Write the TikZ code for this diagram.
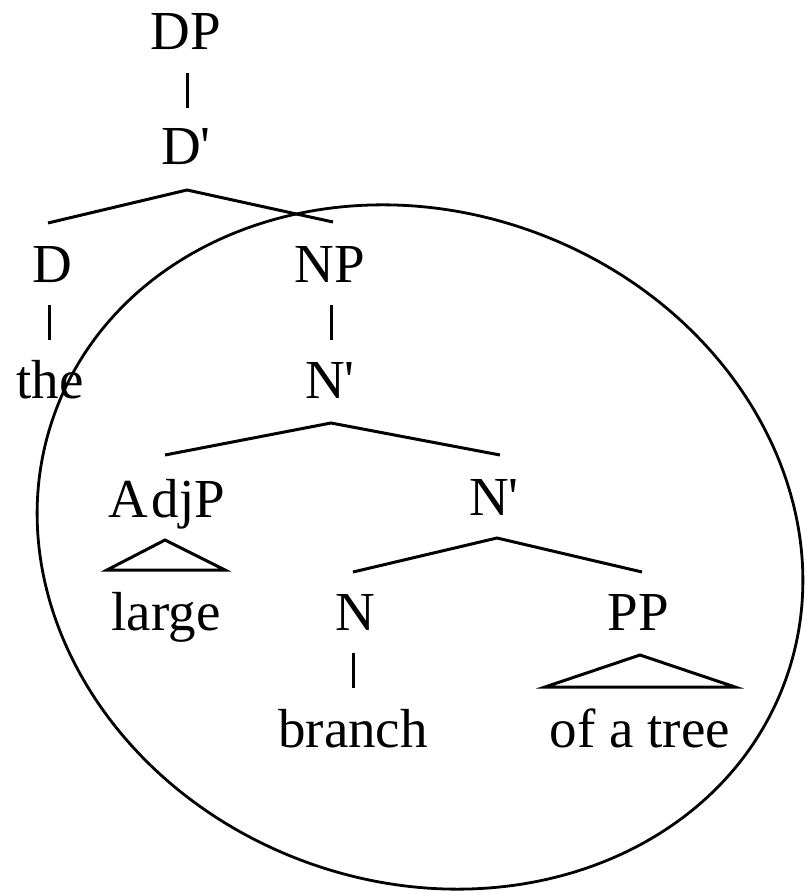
\documentclass[tikz,border=0pt]{standalone}
\usepackage{fontspec}
\setmainfont{Liberation Serif}
\begin{document}
\begin{tikzpicture}[x=1pt,y=-1pt,
  lbl/.style={anchor=base,inner sep=0pt,font=\fontsize{55}{60}\selectfont},
  edge/.style={line width=3pt,line cap=butt,line join=miter}]
\useasboundingbox (0,0) rectangle (805,893);
% labels
\node[lbl] (DP)   at (186,50)  {DP};
\node[lbl] (Db)   at (186,165) {D\textquotesingle};
\node[lbl] (D)    at (52,282)  {D};
\node[lbl] (NP)   at (330,282) {NP};
\node[lbl] (the)  at (50,398)  {the};
\node[lbl] (Nb1)  at (330,398) {N\textquotesingle};
\node[lbl] (AdjP) at (167,517) {A\kern3pt djP};
\node[lbl] (Nb2)  at (494,515) {N\textquotesingle};
\node[lbl] (large) at (166,630) {large};
\node[lbl] (N)    at (355,630) {N};
\node[lbl] (PP)   at (638,630) {PP};
\node[lbl] (branch) at (353,747) {branch};
\node[lbl] (tree) at (640,747) {of a tree};
% connector end points
\coordinate (DPb) at (187,73);   \coordinate (Dbt) at (187,108);
\coordinate (Dbb) at (187,190);  \coordinate (Dt) at (48,223);  \coordinate (NPt) at (333,222);
\coordinate (Db0) at (49,305);   \coordinate (thet) at (49,340);
\coordinate (NPb) at (331,305);  \coordinate (Nb1t) at (331,340);
\coordinate (Nb1b) at (331,423); \coordinate (AdjPt) at (165,455); \coordinate (Nb2t) at (500,455);
\coordinate (AdjPb) at (165,540); \coordinate (lgL) at (107,570); \coordinate (lgR) at (225,570);
\coordinate (Nb2b) at (497,538); \coordinate (Nt) at (353,572); \coordinate (PPt) at (642,572);
\coordinate (Nbot) at (353,653); \coordinate (brt) at (353,688);
\coordinate (PPb) at (640,655); \coordinate (trL) at (545,687); \coordinate (trR) at (735,687);
% connectors
\draw[edge] (DPb) -- (Dbt);
\draw[edge] (Dt) -- (Dbb) -- (NPt);
\draw[edge] (Db0) -- (thet);
\draw[edge] (NPb) -- (Nb1t);
\draw[edge] (AdjPt) -- (Nb1b) -- (Nb2t);
\draw[edge] (lgL) -- (AdjPb) -- (lgR) -- cycle;
\draw[edge] (Nt) -- (Nb2b) -- (PPt);
\draw[edge] (Nbot) -- (brt);
\draw[edge] (trL) -- (PPb) -- (trR) -- cycle;
% ellipse
\coordinate (ec) at (420,547);
\draw[line width=2.8pt, rotate around={-20.5:(ec)}] (ec) ellipse [x radius=389pt, y radius=335pt];
\end{tikzpicture}
\end{document}
